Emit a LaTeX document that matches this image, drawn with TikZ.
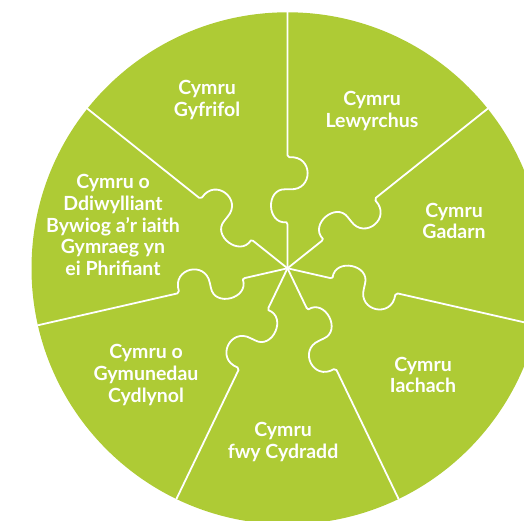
\documentclass[tikz,border=0pt]{standalone}
\usepackage{fontspec}
\setmainfont{Lato}
\definecolor{leaf}{RGB}{174,203,53}
\begin{document}
\begin{tikzpicture}[x=1pt,y=1pt,
  lbl/.style={text=white, font=\bfseries\fontsize{19.5}{21.7}\selectfont, align=center, inner sep=0pt},
  seam/.style={draw=white, line width=1.8pt, line join=round, line cap=round}]
\useasboundingbox (0,0) rectangle (524,521);
\clip (0,0) rectangle (524,521);
\coordinate (c) at (287.5,252.7);
\fill[leaf] (c) circle[radius=256];
\foreach \k in {0,...,6}{
  \draw[seam, shift={(c)}, rotate={90-\k*360/7}]
    (256,0) -- (113,0) -- (111,-2)
    .. controls (113,-26) and (78,-26) .. (79,-3) -- (79,2)
    .. controls (80,22) and (44,21) .. (46,1) -- (44,0) -- (0,0);
}
\node[lbl] (gyf) at (207,421) {Cymru\\Gyfrifol};
\node[lbl] (lew) at (372,410) {Cymru\\Lewyrchus};
\node[lbl] (gad) at (454,300) {Cymru\\Gadarn};
\node[lbl] (iac) at (423,146) {Cymru\\Iachach};
\node[lbl] (cyd) at (283,79) {Cymru\\fwy Cydradd};
\node[lbl] (gym) at (146,146) {Cymru o\\Gymunedau\\Cydlynol};
\node[lbl] (ddi) at (113,296) {Cymru o\\Ddiwylliant\\Bywiog a’r iaith\\Gymraeg yn\\ei Phrifiant};
\end{tikzpicture}
\end{document}
